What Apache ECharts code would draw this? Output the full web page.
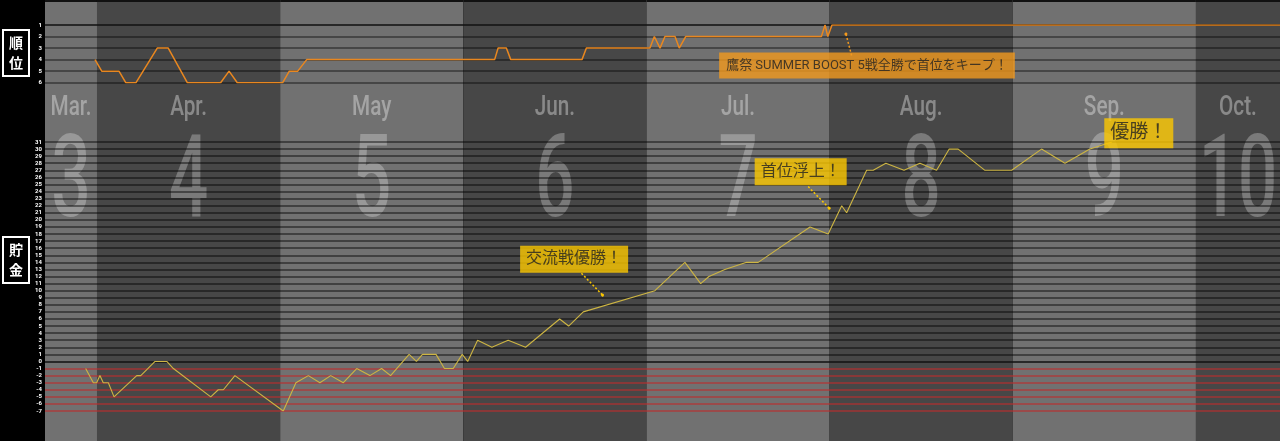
<!DOCTYPE html>
<html><head><meta charset="utf-8">
<script src="https://cdn.jsdelivr.net/npm/echarts@6/dist/echarts.min.js"></script>
<style>html,body{margin:0;padding:0;background:#000;}#c{width:1280px;height:441px;}</style>
</head><body><div id="c"></div>
<script>
// ---- data (x in month units: 4 = Apr 1, 5 = May 1 ...) ----
const monthNames = ['Mar.','Apr.','May','Jun.','Jul.','Aug.','Sep.','Oct.'];
const monthNums  = ['3','4','5','6','7','8','9','10'];

const rankTicks = [1,2,3,4,5,6];
const savingsTicks = [-7,-6,-5,-4,-3,-2,-1,0,1,2,3,4,5,6,7,8,9,10,11,12,13,14,15,16,17,18,19,20,21,22,23,24,25,26,27,28,29,30,31];

const rankX = [3.989,4.026,4.120,4.157,4.213,4.329,4.389,4.493,4.675,4.721,4.766,5.014,5.050,5.096,5.145,6.171,6.190,6.235,6.259,6.648,6.672,7.019,7.043,7.074,7.101,7.156,7.179,7.214,7.955,7.975,7.990,8.013,10.459];
const rankY = [4,5,5,6,6,3,3,6,6,5,6,6,5,5,4,4,3,3,4,4,3,3,2,3,2,2,3,2,2,1,2,1,1];

const savingsX = [3.938,3.980,3.998,4.016,4.034,4.062,4.093,4.217,4.239,4.317,4.381,4.417,4.621,4.662,4.690,4.753,5.017,5.086,5.154,5.217,5.276,5.345,5.418,5.490,5.554,5.603,5.704,5.744,5.777,5.851,5.897,5.945,5.994,6.024,6.078,6.156,6.245,6.340,6.526,6.575,6.655,7.046,7.210,7.296,7.341,7.428,7.547,7.610,7.893,7.992,8.066,8.093,8.202,8.238,8.307,8.406,8.493,8.584,8.653,8.702,8.848,8.994,9.157,9.285,9.421,9.541];
const savingsY = [-1,-3,-3,-2,-3,-3,-5,-2,-2,0,0,-1,-5,-4,-4,-2,-7,-3,-2,-3,-2,-3,-1,-2,-1,-2,1,0,1,1,-1,-1,1,0,3,2,3,2,6,5,7,10,14,11,12,13,14,14,19,18,22,21,27,27,28,27,28,27,30,30,27,27,30,28,30,31];

const noteRank = '鷹祭 SUMMER BOOST 5戦全勝で首位をキープ！';
const noteInter = '交流戦優勝！';
const noteFirst = '首位浮上！';
const noteWin = '優勝！';

// ---- chart ----
const X_MIN = 3.7161, X_MAX = 10.459;
const LIGHT = '#717171', DARK = '#474747';
const CJK = 'Roboto, "Noto Sans CJK JP", sans-serif';
const COND = 'Roboto, "DejaVu Sans", sans-serif';

const chart = echarts.init(document.getElementById('c'));

const bands = monthNums.map((n, i) => [Math.max(+n, X_MIN), Math.min(+n + 1, X_MAX), i]);

const xAx = gi => ({type:'value', gridIndex:gi, min:X_MIN, max:X_MAX, show:false});
const tickLabel = {color:'#fff', fontSize:6, fontWeight:'bold', fontFamily:'Roboto', margin:3};

function noteLabel(text, bg, size, pad) {
  return {show:true, position:'inside', formatter:text, backgroundColor:bg, color:'#222',
    fontSize:size, fontFamily:CJK, padding:pad, lineHeight:size + 2};
}
function pointer(color, from, to) {
  return {silent:true, symbol:['none','circle'], symbolSize:3, label:{show:false},
    lineStyle:{color:color, type:[2,2], width:1.5}, itemStyle:{color:color},
    emphasis:{disabled:true}, data:[[{coord:from},{coord:to}]]};
}

chart.setOption({
  animation:false,
  backgroundColor:'#000',
  title:[
    {text:'順\n位', left:3, top:30, borderColor:'#fff', borderWidth:2, padding:[3,6],
     textStyle:{color:'#fff', fontSize:14, fontWeight:'bold', fontFamily:'"Noto Sans CJK JP"', lineHeight:20}},
    {text:'貯\n金', left:3, top:237, borderColor:'#fff', borderWidth:2, padding:[3,6],
     textStyle:{color:'#fff', fontSize:14, fontWeight:'bold', fontFamily:'"Noto Sans CJK JP"', lineHeight:20}}
  ],
  grid:[
    {left:45, right:0, top:25, height:57.7},
    {left:45, right:0, top:142, height:269},
    {left:45, right:0, top:0, bottom:0}
  ],
  xAxis:[xAx(0), xAx(1), xAx(2)],
  yAxis:[
    {type:'value', gridIndex:0, inverse:true, min:1, max:6, interval:1, z:3,
     axisLine:{show:false}, axisTick:{show:false},
     axisLabel:{...tickLabel, formatter:v => rankTicks.includes(v) ? String(v) : ''},
     splitLine:{show:true, lineStyle:{width:1.5, color:rankTicks.map(v => v === 1 ? '#111' : 'rgba(0,0,0,0.5)')}}},
    {type:'value', gridIndex:1, min:-7, max:31, interval:1, z:3,
     axisLine:{show:false}, axisTick:{show:false},
     axisLabel:{...tickLabel, formatter:v => savingsTicks.includes(v) ? String(v) : ''},
     splitLine:{show:true, lineStyle:{width:1.5, color:savingsTicks.map(v => v < 0 ? 'rgba(190,45,45,0.75)' : v === 0 ? '#111' : 'rgba(0,0,0,0.58)')}}},
    {type:'value', gridIndex:2, min:0, max:1, show:false}
  ],
  series:[
    {type:'custom', xAxisIndex:2, yAxisIndex:2, z:0, silent:true,
     dimensions:['s','e','i'], encode:{x:[0,1]}, data:bands,
     renderItem:function(params, api){
       const s = api.value(0), e = api.value(1), i = api.value(2);
       const p0 = api.coord([s, 1]), p1 = api.coord([e, 0]);
       const cx = (p0[0] + p1[0]) / 2;
       return {type:'group', children:[
         {type:'rect', shape:{x:p0[0], y:p0[1], width:p1[0]-p0[0], height:p1[1]-p0[1]},
          style:{fill: i % 2 ? DARK : LIGHT}},
         {type:'line', shape:{x1:p0[0], y1:p0[1] + 1, x2:p1[0], y2:p0[1] + 1},
          style:{stroke:'#111', lineWidth:2}},
         {type:'text', x:cx, y:p0[1] + 108, scaleX:0.74,
          style:{text:monthNames[i], fill:'rgba(255,255,255,0.36)', font:'500 28px ' + COND,
                 align:'center', verticalAlign:'middle'}},
         {type:'text', x:cx, y:p0[1] + 187, scaleX:0.6,
          style:{text:monthNums[i], fill:'rgba(255,255,255,0.28)', font:'500 115px ' + COND,
                 align:'center', verticalAlign:'middle'}}
       ]};
     }},
    {type:'line', name:'順位', xAxisIndex:0, yAxisIndex:0, z:5, symbol:'none', silent:true,
     lineStyle:{color:'#e9871f', width:1.5},
     data:rankX.map((x, i) => [x, rankY[i]])},
    {type:'line', name:'貯金', xAxisIndex:1, yAxisIndex:1, z:5, symbol:'none', silent:true,
     lineStyle:{color:'#cdb543', width:1.1},
     data:savingsX.map((x, i) => [x, savingsY[i]])},
    {type:'scatter', xAxisIndex:0, yAxisIndex:0, z:8, clip:false, silent:true, symbolSize:1,
     itemStyle:{color:'rgba(0,0,0,0)'},
     label:noteLabel(noteRank, '#f39a1e', 13, [6,7,5,7]),
     data:[[8.204, 4.51]],
     markLine:pointer('#f39a1e', [8.120, 3.64], [8.089, 1.78])},
    {type:'scatter', xAxisIndex:1, yAxisIndex:1, z:8, clip:false, silent:true, symbolSize:1,
     itemStyle:{color:'rgba(0,0,0,0)'},
     label:noteLabel(noteInter, '#fcc800', 16, [5,6,4,6]),
     data:[[6.605, 14.44]],
     markLine:pointer('#fcc800', [6.645, 12.46], [6.760, 9.38])},
    {type:'scatter', xAxisIndex:1, yAxisIndex:1, z:8, clip:false, silent:true, symbolSize:1,
     itemStyle:{color:'rgba(0,0,0,0)'},
     label:noteLabel(noteFirst, '#fcc800', 16, [5,6,4,6]),
     data:[[7.842, 26.78]],
     markLine:pointer('#fcc800', [7.883, 24.7], [7.998, 21.64])},
    {type:'scatter', xAxisIndex:1, yAxisIndex:1, z:8, clip:false, silent:true, symbolSize:1,
     itemStyle:{color:'rgba(0,0,0,0)'},
     label:noteLabel(noteWin, '#fcc800', 19, [5,6,4,6]),
     data:[[9.688, 32.25]]}
  ]
});
</script></body></html>
